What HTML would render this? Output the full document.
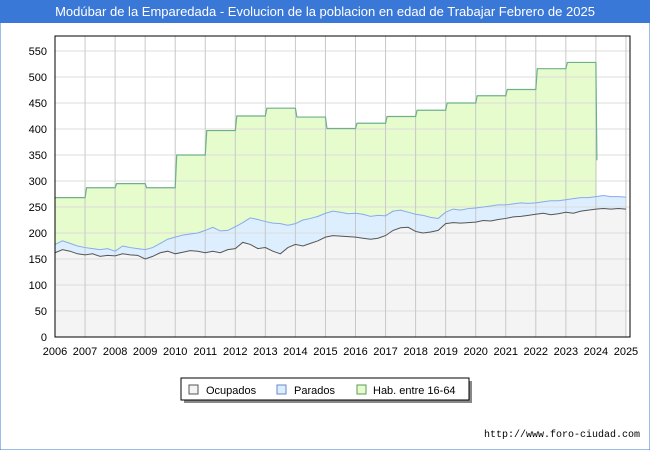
<!DOCTYPE html>
<html><head><meta charset="utf-8"><style>
body{margin:0;width:650px;height:450px;background:#fff;font-family:"Liberation Sans","DejaVu Sans",sans-serif;overflow:hidden}
</style></head><body>
<svg id="chart" width="650" height="450" xmlns="http://www.w3.org/2000/svg" font-family="Liberation Sans, DejaVu Sans, sans-serif">
<rect x="0" y="0" width="650" height="450" fill="#fff" stroke="#3a78d8"/>
<rect x="0" y="0" width="650" height="23" fill="#3a78d8"/>
<text x="325" y="16" font-size="13" fill="#fff" text-anchor="middle">Modúbar de la Emparedada - Evolucion de la poblacion en edad de Trabajar Febrero de 2025</text>
<g id="plot"></g>
<g>
<rect x="184" y="381" width="288" height="22" fill="#888"/>
<rect x="181" y="378" width="288" height="22" fill="#fff" stroke="#000"/>
<rect x="189" y="385" width="9" height="9" fill="#f4f4f4" stroke="#555"/>
<text x="206" y="394" font-size="11">Ocupados</text>
<rect x="277" y="385" width="9" height="9" fill="#ddeeff" stroke="#6688cc"/>
<text x="294" y="394" font-size="11">Parados</text>
<rect x="357" y="385" width="9" height="9" fill="#e6fccc" stroke="#5a9a5a"/>
<text x="373" y="394" font-size="11">Hab. entre 16-64</text>
</g>
<text x="640" y="437" font-size="10" text-anchor="end" font-family="Liberation Mono, monospace">http://www.foro-ciudad.com</text>
</svg>
<script>
const years=[2006,2007,2008,2009,2010,2011,2012,2013,2014,2015,2016,2017,2018,2019,2020,2021,2022,2023,2024,2025];
const yTicks=[0,50,100,150,200,250,300,350,400,450,500,550];
const hab=[268,287,295,287,350,397,425,440,423,401,411,424,436,450,464,476,516,528];
const habLast=340;
const ocupados=[162,168,165,160,158,160,155,157,156,160,158,157,150,155,162,165,160,163,166,165,162,165,162,168,170,182,178,170,172,165,160,172,178,175,180,185,192,195,194,193,192,190,188,190,195,205,210,211,203,200,202,205,218,220,219,220,221,224,223,226,228,231,232,234,236,238,235,237,240,238,242,244,246,247,246,247,246];
const parados=[16,17,15,15,14,10,13,13,9,15,14,13,18,17,18,23,32,33,32,35,43,46,42,37,42,38,51,56,50,54,58,43,40,50,48,47,46,47,46,44,46,46,44,44,38,37,34,29,33,34,28,23,22,26,25,27,27,26,29,28,26,25,26,23,22,22,27,25,24,28,26,24,24,25,24,23,23];
const X0=55,X1=630,Y0=337,Y1=36;
const xs=t=>55+(t-2006)*30.05;
const ys=v=>337-v*0.52;
const NS="http://www.w3.org/2000/svg";
const g=document.getElementById('plot');
function mk(tag,attrs){const e=document.createElementNS(NS,tag);for(const k in attrs)e.setAttribute(k,attrs[k]);g.appendChild(e);return e;}
let hp=[];
hab.forEach((v,i)=>{const t=years[i];hp.push([xs(t)+(i?1.5:0),ys(v)]);hp.push([xs(t+1),ys(v)]);});
hp.push([xs(2024)+1,ys(habLast)]);
const habArea=mk('path',{d:'M'+xs(2006)+','+Y0+' L'+hp.map(p=>p.join(',')).join(' L')+' L'+(xs(2024)+1)+','+Y0+' Z',fill:'#e6fccc'});


const tp=ocupados.map((o,i)=>[xs(2006+i/4),ys(o+parados[i])]);
const op=ocupados.map((o,i)=>[xs(2006+i/4),ys(o)]);
const lastX=xs(2006+(ocupados.length-1)/4);
const pa=mk('path',{d:'M'+X0+','+Y0+' L'+tp.map(p=>p.join(',')).join(' L')+' L'+lastX+','+Y0+' Z',fill:'#ddeeff'});


const oa=mk('path',{d:'M'+X0+','+Y0+' L'+op.map(p=>p.join(',')).join(' L')+' L'+lastX+','+Y0+' Z',fill:'#f4f4f4'});


yTicks.forEach(v=>{
 if(v>0){const l=mk('line',{x1:X0,x2:X1,y1:ys(v),y2:ys(v),stroke:'#dddddd'});
 
 }
 const t=mk('text',{x:47,y:ys(v)+4,'font-size':11,'text-anchor':'end'});t.textContent=v;
 
 
});
years.forEach(yr=>{
 if(yr>2006){const l=mk('line',{x1:xs(yr),x2:xs(yr),y1:Y1,y2:Y0,stroke:'#c8c8c8'});
 
 }
 const t=mk('text',{x:xs(yr),y:355,'font-size':11,'text-anchor':'middle'});t.textContent=yr;
 
 
});
const habLine=mk('path',{d:'M'+hp.map(p=>p.join(',')).join(' L'),fill:'none',stroke:'#6fb08a','stroke-width':1.2});


const pl=mk('path',{d:'M'+tp.map(p=>p.join(',')).join(' L'),fill:'none',stroke:'#88aaee','stroke-width':1});


const ol=mk('path',{d:'M'+op.map(p=>p.join(',')).join(' L'),fill:'none',stroke:'#555','stroke-width':1});


const fr=mk('rect',{x:X0,y:Y1,width:X1-X0,height:Y0-Y1,fill:'none',stroke:'#000','stroke-width':1});


</script>
</body></html>
